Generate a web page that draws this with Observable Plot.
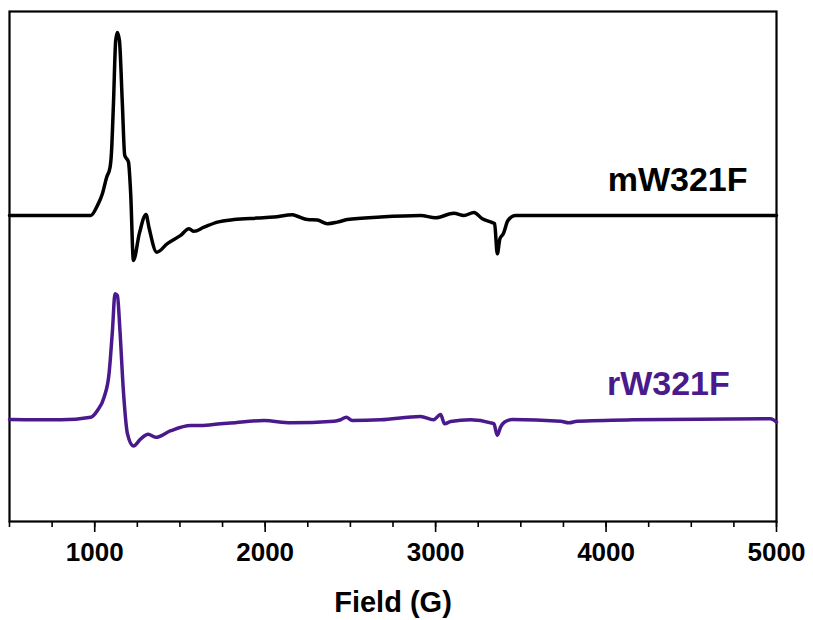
<!DOCTYPE html>
<html>
<head>
<meta charset="utf-8">
<script src="https://cdn.jsdelivr.net/npm/d3@7"></script>
<script src="https://cdn.jsdelivr.net/npm/@observablehq/plot@0.6"></script>
<style>
  html, body { margin: 0; padding: 0; background: #fff; }
  #chart { width: 813px; height: 620px; }
  svg { font-family: "Liberation Sans", Arial, sans-serif; }
</style>
</head>
<body>
<div id="chart"></div>
<script>
// ---- Data ----
const seriesNames = ["mW321F", "rW321F"];
const seriesColors = ["#000000", "#4a1a8c"];
const seriesOffsets = [60, 20];           // vertical stacking offset (arbitrary units)

const mField = [500, 977, 1016, 1045, 1070, 1090, 1098, 1110, 1123, 1133, 1145, 1162, 1176, 1198, 1211, 1227,
  1262, 1301, 1318, 1364, 1426, 1504, 1553, 1582, 1641, 1720, 1817, 1954, 2052, 2160, 2189, 2248, 2306,
  2365, 2423, 2482, 2677, 2912, 3000, 3107, 3166, 3225, 3274, 3333, 3346, 3362, 3377, 3397, 3424, 3469, 5000];
const mIntensity = [0, 0, 1.96, 4.25, 7.5, 9.47, 12.2, 22.0, 34.3, 35.9, 34.3, 22.0, 11.8, 10.5, 4.3, -8.8,
  -3.5, 0.2, -2.3, -7.2, -5.5, -3.9, -2.6, -3.1, -2.3, -1.3, -0.8, -0.5, -0.3, 0.15, -0.15, -0.8, -0.9,
  -1.6, -1.3, -0.8, -0.3, 0, -0.45, 0.45, 0, 0.6, -0.65, -1.4, -1.6, -7.5, -4.6, -3.6, -1.0, 0, 0];

const rField = [500, 801, 977, 1016, 1055, 1084, 1104, 1119, 1133, 1148, 1168, 1192, 1227, 1270, 1313, 1358,
  1446, 1563, 1622, 1739, 1798, 1993, 2150, 2404, 2443, 2476, 2511, 2678, 2912, 2988, 3029, 3053, 3088,
  3205, 3323, 3342, 3362, 3381, 3405, 3450, 3733, 3782, 3831, 4161, 4965, 5000];
const rIntensity = [0, -0.06, 0.45, 1.76, 4.37, 8.96, 17.45, 24.65, 24.3, 17.45, 5.7, -2.8, -5.2, -3.8, -2.9, -3.5,
  -2.2, -1.2, -1.2, -0.85, -0.7, -0.2, -0.65, -0.35, -0.05, 0.45, -0.2, -0.05, 0.6, -0.05, 0.98, -0.85, -0.4,
  -0.06, -0.65, -0.85, -3.1, -1.5, -0.5, 0, -0.33, -0.65, -0.33, -0.06, 0.14, -0.5];

const majorTicks = [1000, 2000, 3000, 4000, 5000];
const minorTicks = d3.range(500, 5001, 250);
const xLabel = "Field (G)";

// ---- Build tables ----
const fields = [mField, rField];
const intensities = [mIntensity, rIntensity];
const rows = [];
seriesNames.forEach((name, s) => {
  fields[s].forEach((f, i) => rows.push({series: name, field: f, value: intensities[s][i] + seriesOffsets[s]}));
});
const labels = seriesNames.map((name, s) => ({series: name, offset: seriesOffsets[s]}));

const plot = Plot.plot({
  width: 813,
  height: 620,
  marginLeft: 9,
  marginRight: 37,
  marginTop: 11,
  marginBottom: 99,
  style: {fontFamily: "'Liberation Sans', Arial, sans-serif", background: "#fff"},
  x: {domain: [500, 5000], label: null},
  y: {domain: [0, 100], axis: null},
  color: {domain: seriesNames, range: seriesColors},
  marks: [
    Plot.frame({stroke: "#000", strokeWidth: 2.2}),
    Plot.axisX({ticks: minorTicks, tickSize: 6, tickFormat: () => "", strokeWidth: 1.6, stroke: "#000", label: null}),
    Plot.axisX({ticks: majorTicks, tickSize: 11, tickPadding: 10, strokeWidth: 1.6, stroke: "#000",
      tickFormat: d => String(d), fontSize: 26, fontWeight: "bold", fill: "#000", label: null}),
    Plot.text([xLabel], {frameAnchor: "bottom", dy: 81, fontSize: 29, fontWeight: "bold", fill: "#000", lineAnchor: "middle"}),
    Plot.line(rows, {x: "field", y: "value", z: "series", stroke: "series", strokeWidth: 3.5,
      strokeLinejoin: "round", strokeLinecap: "round", curve: "monotone-x"}),
    Plot.text(labels, {x: [4830, 4726], y: d => d.offset + 7, text: "series", fill: "series",
      textAnchor: "end", lineAnchor: "middle", fontSize: 34, fontWeight: "bold"})
  ]
});
document.getElementById("chart").appendChild(plot);
</script>
</body>
</html>
